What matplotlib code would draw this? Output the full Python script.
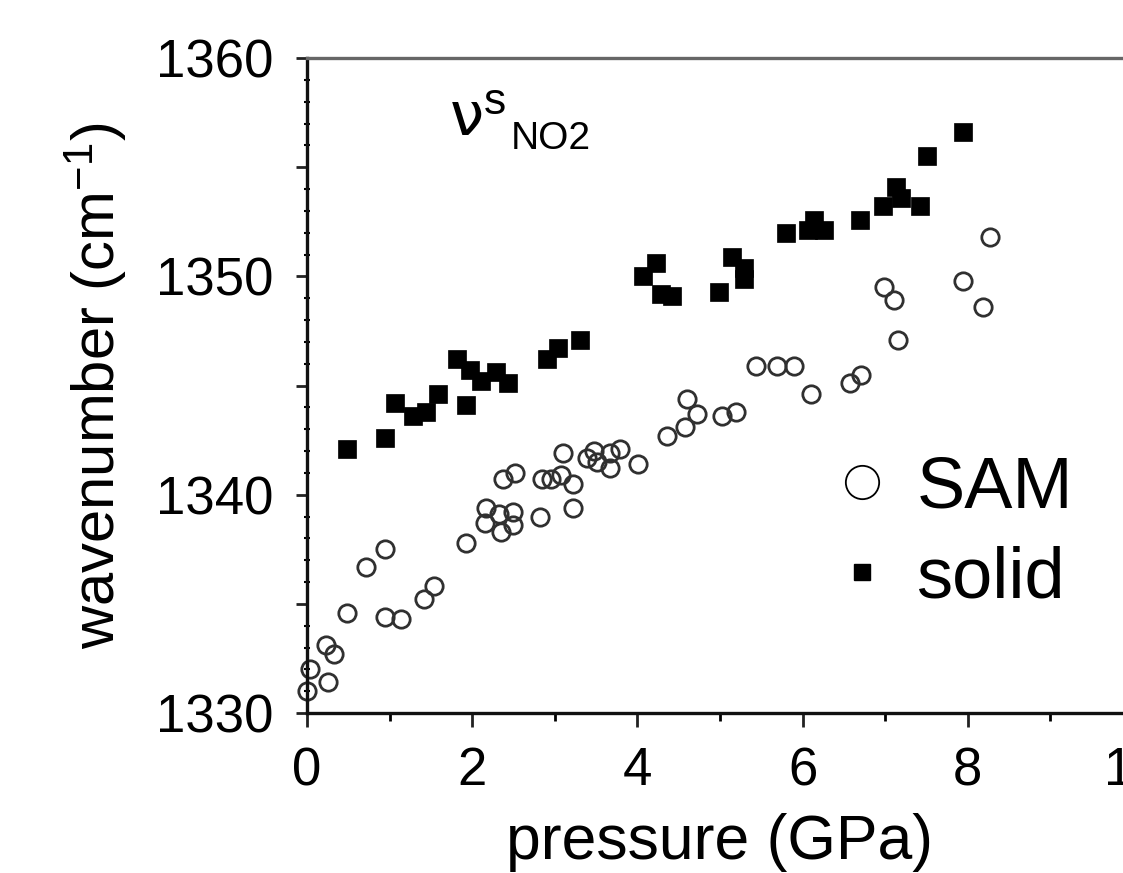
import matplotlib
matplotlib.use("Agg")
import matplotlib.pyplot as plt
from matplotlib.lines import Line2D
from matplotlib.ticker import MultipleLocator, FuncFormatter

plt.rcParams['font.family'] = ['Liberation Sans', 'DejaVu Sans']
plt.rcParams['mathtext.fontset'] = 'custom'
plt.rcParams['mathtext.rm'] = 'Liberation Sans'
plt.rcParams['mathtext.it'] = 'Liberation Sans:italic'

# SAM (open circles)
sam_p = [0.0, 0.04, 0.25, 0.23, 0.33, 0.49, 0.71, 0.94, 0.94, 1.14, 1.42, 1.54,
         1.93, 2.17, 2.15, 2.33, 2.35, 2.49, 2.49, 2.37, 2.52, 2.82, 2.84, 2.96,
         3.08, 3.10, 3.22, 3.22, 3.39, 3.47, 3.51, 3.67, 3.67, 3.79, 4.01, 4.36,
         4.58, 4.60, 4.72, 5.03, 5.19, 5.43, 5.69, 5.90, 6.10, 6.57, 6.71, 6.99,
         7.11, 7.15, 7.94, 8.19, 8.27]
sam_w = [1331.0, 1332.0, 1331.4, 1333.1, 1332.7, 1334.6, 1336.7, 1337.5, 1334.4,
         1334.3, 1335.2, 1335.8, 1337.8, 1339.4, 1338.7, 1339.1, 1338.3, 1339.2,
         1338.6, 1340.7, 1341.0, 1339.0, 1340.7, 1340.7, 1340.9, 1341.9, 1340.5,
         1339.4, 1341.7, 1342.0, 1341.5, 1341.9, 1341.2, 1342.1, 1341.4, 1342.7,
         1343.1, 1344.4, 1343.7, 1343.6, 1343.8, 1345.9, 1345.9, 1345.9, 1344.6,
         1345.1, 1345.5, 1349.5, 1348.9, 1347.1, 1349.8, 1348.6, 1351.8]

# solid (filled squares)
solid_p = [0.48, 0.94, 1.07, 1.28, 1.44, 1.58, 1.82, 1.93, 1.97, 2.11, 2.29, 2.43,
           2.90, 3.04, 3.30, 4.07, 4.22, 4.28, 4.42, 4.99, 5.15, 5.29, 5.29,
           5.80, 6.06, 6.14, 6.26, 6.69, 6.97, 7.13, 7.19, 7.42, 7.50, 7.94]
solid_w = [1342.1, 1342.6, 1344.2, 1343.6, 1343.8, 1344.6, 1346.2, 1344.1, 1345.7,
           1345.2, 1345.6, 1345.1, 1346.2, 1346.7, 1347.1, 1350.0, 1350.6, 1349.2,
           1349.1, 1349.3, 1350.9, 1350.4, 1349.9, 1352.0, 1352.1, 1352.6, 1352.1,
           1352.6, 1353.2, 1354.1, 1353.6, 1353.2, 1355.5, 1356.6]

series_labels = ["SAM", "solid"]
x_label = "pressure (GPa)"
y_label = "wavenumber (cm$^{-1}$)"
x_ticks = [0, 2, 4, 6, 8, 10]
y_ticks = [1330, 1340, 1350, 1360]

W, H = 1123, 873
fig = plt.figure(figsize=(W / 100, H / 100), dpi=100)
left, right, top, bottom = 307, 1133, 58, 713
ax = fig.add_axes([left / W, (H - bottom) / H, (right - left) / W, (bottom - top) / H])

ax.plot(sam_p, sam_w, linestyle='none', marker='o', ms=12.5, mfc='none',
        mec='#303030', mew=2.0, clip_on=False)
ax.plot(solid_p, solid_w, linestyle='none', marker='s', ms=13, mfc='black',
        mec='black', mew=0.5, clip_on=False)

ax.set_xlim(0, 10)
ax.set_ylim(1330, 1360)
ax.set_xticks(x_ticks)
ax.xaxis.set_minor_locator(MultipleLocator(1))
ax.yaxis.set_major_locator(MultipleLocator(5))
ax.yaxis.set_minor_locator(MultipleLocator(1))
ax.yaxis.set_major_formatter(FuncFormatter(lambda v, p: f"{int(round(v))}" if round(v) in y_ticks else ""))
ax.xaxis.set_major_formatter(FuncFormatter(lambda v, p: f"{int(round(v))}"))

ax.tick_params(axis='both', which='major', labelsize=38, direction='out', width=2, color='#222222')
ax.tick_params(axis='x', which='major', length=10, pad=14)
ax.tick_params(axis='x', which='minor', length=6, width=2, direction='out')
ax.tick_params(axis='y', which='major', length=8, pad=16)
ax.tick_params(axis='y', which='minor', length=4, width=1.5, direction='inout')
ax.tick_params(top=False, right=False)

for s in ['left', 'bottom']:
    ax.spines[s].set_linewidth(2.4)
    ax.spines[s].set_color('#111111')
ax.spines['top'].set_linewidth(2.4)
ax.spines['top'].set_color('#666666')
ax.spines['right'].set_visible(False)

ax.set_xlabel(x_label, fontsize=45, labelpad=12)
ax.set_ylabel(y_label, fontsize=43, labelpad=20)

# annotation: upright nu with superscript s, subscript NO2 offset to the right
ax.text(450 / W, 1 - 135 / H, "\u03bd", transform=fig.transFigure,
        fontsize=44, ha='left', va='baseline', family=['DejaVu Sans'])
ax.text(484 / W, 1 - 114 / H, "s", transform=fig.transFigure,
        fontsize=32, ha='left', va='baseline')
ax.text(511 / W, 1 - 149 / H, "NO2", transform=fig.transFigure,
        fontsize=28, ha='left', va='baseline')

handles = [
    Line2D([], [], linestyle='none', marker='o', ms=24, mfc='none', mec='black', mew=1.3),
    Line2D([], [], linestyle='none', marker='s', ms=12, mfc='black', mec='black'),
]
leg = ax.legend(handles, series_labels, loc='upper left',
                bbox_to_anchor=(826 / W, 1 - 455 / H), bbox_transform=fig.transFigure,
                frameon=False, fontsize=52, handletextpad=0.25, labelspacing=0.32,
                handlelength=1.0, borderpad=0, borderaxespad=0)

fig.savefig("out.png", dpi=100)
